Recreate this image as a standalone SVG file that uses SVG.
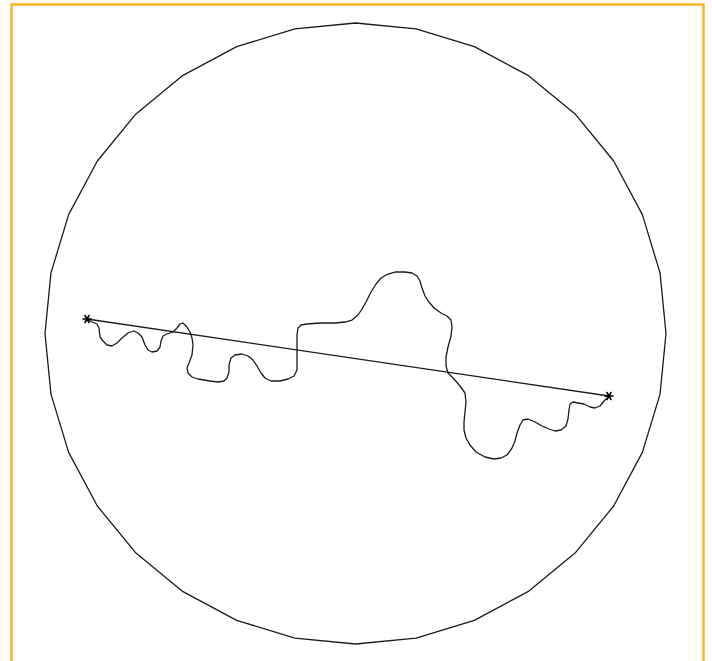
<svg xmlns="http://www.w3.org/2000/svg" width="712" height="661" viewBox="0 0 712 661">
  <defs>
    <style>
      .frame { fill: none; stroke: #FCB322; stroke-width: 2.5; }
      .ink { fill: none; stroke: #1a1a1a; stroke-width: 1.3; stroke-linejoin: round; stroke-linecap: round; }
      .star { stroke: #000; stroke-width: 1.6; stroke-linecap: round; }
    </style>
    <g id="asterisk">
      <line class="star" x1="-4" y1="0" x2="4" y2="0"/>
      <line class="star" x1="-2" y1="-3.5" x2="2" y2="3.5"/>
      <line class="star" x1="-2" y1="3.5" x2="2" y2="-3.5"/>
    </g>
  </defs>
  <rect width="712" height="661" fill="#ffffff"/>
  <rect id="frame" class="frame" x="11.5" y="4.5" width="692" height="700"/>
  <g id="circle">
    <polygon class="ink" points="666,333.5 660.04,394.08 642.36,452.32 613.67,506 575.06,553.06 528,591.67 474.32,620.36 416.08,638.04 355.5,644 294.92,638.04 236.68,620.36 183,591.67 135.94,553.06 97.33,506 68.64,452.32 50.96,394.08 45,333.5 50.96,272.92 68.64,214.68 97.33,161 135.94,113.94 183,75.33 236.68,46.64 294.92,28.96 355.5,23 416.08,28.96 474.32,46.64 528,75.33 575.06,113.94 613.67,161 642.36,214.68 660.04,272.92"/>
  </g>
  <g id="connectors">
    <line id="chord" class="ink" x1="87" y1="319" x2="609" y2="396"/>
    <polyline id="wiggle" class="ink" points="87,319 92,322 97,324 99,328 100,337 103,341 107,345 112,346 117,343 122,338 128,333 134,331 138,333 142,337 145,345 148,350 152,352 157,351 160,347 161,341 163,336 167,334 173,332 177,328 180,324 183,323 187,327 190,332 192,338 193,345 192,355 189,363 187,368 188,373 192,377 198,379 210,381 218,382 224,381 227,378 229,372 229,365 231,358 235,355 242,354 248,356 253,360 257,366 261,373 265,378 271,381 280,381 288,379 294,376 297,370 297,360 297,345 297,335 298,328 301,325 307,324 320,323 335,323 345,322 352,320 358,315 362,309 366,302 371,292 376,284 381,278 388,274 395,272 405,272 412,273 417,276 420,281 422,288 425,296 429,302 434,308 441,313 447,316 451,320 452,327 451,336 448,347 446,357 446,366 448,373 454,379 460,386 465,393 466,402 465,412 464,422 464,430 466,438 470,445 476,452 485,457 494,459 501,458 507,455 512,448 515,441 517,433 520,425 523,420 528,419 535,422 542,426 549,429 555,431 561,430 566,426 568,419 569,410 570,404 573,402 578,403 584,404 590,407 595,408 600,406 604,401 609,396"/>
  </g>
  <g id="endpoint-a"><use href="#asterisk" x="87" y="319"/></g>
  <g id="endpoint-b"><use href="#asterisk" x="609" y="396"/></g>
</svg>
